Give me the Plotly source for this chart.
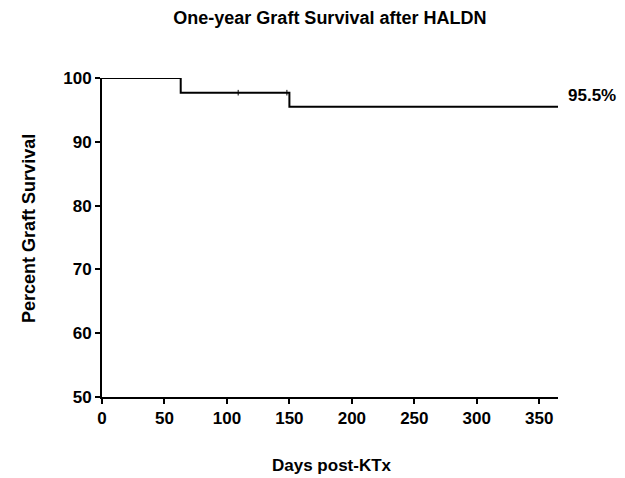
import plotly.graph_objects as go

days = [0, 63, 63, 150, 150, 365]
survival = [100, 100, 97.7, 97.7, 95.5, 95.5]
censor_days = [109, 148]
censor_surv = [97.7, 97.7]
x_ticks = [0, 50, 100, 150, 200, 250, 300, 350]
y_ticks = [50, 60, 70, 80, 90, 100]

font = "Arial"

fig = go.Figure()
fig.add_trace(go.Scatter(x=days, y=survival, mode="lines",
                         line=dict(color="black", width=2), showlegend=False))
fig.add_trace(go.Scatter(x=censor_days, y=censor_surv, mode="markers",
                         marker=dict(symbol="line-ns", size=4, line=dict(color="black", width=1)),
                         showlegend=False))
fig.add_annotation(x=365, y=95.5, text="<b>95.5%</b>", showarrow=False,
                   xanchor="left", yanchor="bottom", xshift=8, yshift=0,
                   font=dict(family=font, size=17, color="black"))
fig.add_annotation(x=-0.160, y=0.527, xref="paper", yref="paper", text="<b>Percent Graft Survival</b>",
                   textangle=-90, showarrow=False, xanchor="center", yanchor="middle",
                   font=dict(family=font, size=18, color="black"))
fig.add_annotation(x=0.504, y=-0.216, xref="paper", yref="paper", text="<b>Days post-KTx</b>",
                   showarrow=False, xanchor="center", yanchor="middle",
                   font=dict(family=font, size=17, color="black"))

fig.update_layout(
    width=625, height=478,
    margin=dict(l=94, r=75, t=70, b=89, autoexpand=False),
    plot_bgcolor="white", paper_bgcolor="white",
    title=dict(text="<b>One-year Graft Survival after HALDN</b>", x=0.515, xanchor="center",
               y=0.979, yanchor="middle", font=dict(family=font, size=18, color="black")),
    font=dict(family=font, color="black"),
)
fig.update_xaxes(range=[0, 365], tickvals=x_ticks, ticktext=[f"<b>{v}</b>" for v in x_ticks],
                 showline=True, linecolor="black", linewidth=2, ticks="outside", ticklen=5,
                 tickwidth=2, tickcolor="black", showgrid=False, zeroline=False,
                 tickfont=dict(family=font, size=17), automargin=False)
fig.update_yaxes(range=[50, 100], tickvals=y_ticks, ticktext=[f"<b>{v}</b>" for v in y_ticks],
                 showline=True, linecolor="black", linewidth=2, ticks="outside", ticklen=5,
                 tickwidth=2, tickcolor="black", showgrid=False, zeroline=False,
                 tickfont=dict(family=font, size=17), automargin=False)

fig.write_html("out.html")
